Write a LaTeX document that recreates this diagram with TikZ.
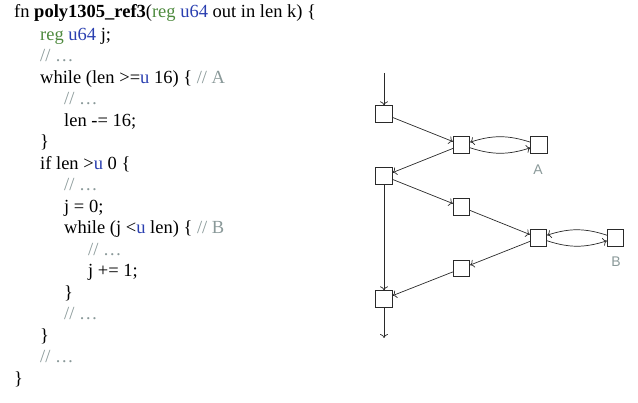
\documentclass[tikz,border=0pt]{standalone}
\usepackage{fontspec}
\setmainfont{Liberation Serif}
\setsansfont{Liberation Sans}
\usetikzlibrary{arrows.meta}
\definecolor{kwgreen}{HTML}{4E8A3E}
\definecolor{tyblue}{HTML}{2A3FB0}
\definecolor{cmgray}{HTML}{8A9999}
\definecolor{edgegray}{HTML}{2A2A2A}
\newcommand{\kwreg}{\textcolor{kwgreen}{reg}}
\newcommand{\tyu}[1]{\textcolor{tyblue}{#1}}
\newcommand{\cmt}[1]{\textcolor{cmgray}{#1}}
\begin{document}
\begin{tikzpicture}[x=1pt,y=-1pt,
  codeline/.style={anchor=base west,inner sep=0pt,font=\fontsize{18.5}{21}\selectfont},
  blk/.style={draw=edgegray,line width=0.8pt,minimum size=16.5pt,inner sep=0pt},
  flow/.style={-{To[length=4pt,width=8pt]},draw=edgegray,line width=0.7pt},
  looplabel/.style={text=cmgray,font=\sffamily\fontsize{14}{16}\selectfont}]
\useasboundingbox (0,0) rectangle (638,403);

% source listing
\node[codeline] (l0) at (14,18) {fn \textbf{poly1305\_ref3}(\kwreg{} \tyu{u64} out in len k) \{};
\node[codeline] (l1) at (40,41) {\kwreg{} \tyu{u64} j;};
\node[codeline] (l2) at (40,62) {\cmt{// …}};
\node[codeline] (l3) at (40,83.5) {while (len >=\tyu{u} 16) \{ \cmt{// A}};
\node[codeline] (l4) at (64,105) {\cmt{// …}};
\node[codeline] (l5) at (64,126.5) {len -= 16;};
\node[codeline] (l6) at (40,148) {\}};
\node[codeline] (l7) at (40,169.5) {if len >\tyu{u} 0 \{};
\node[codeline] (l8) at (64,191) {\cmt{// …}};
\node[codeline] (l9) at (64,212.5) {j = 0;};
\node[codeline] (l10) at (64,234) {while (j <\tyu{u} len) \{ \cmt{// B}};
\node[codeline] (l11) at (88,255.5) {\cmt{// …}};
\node[codeline] (l12) at (88,277) {j += 1;};
\node[codeline] (l13) at (64,298.5) {\}};
\node[codeline] (l14) at (64,320) {\cmt{// …}};
\node[codeline] (l15) at (40,341.5) {\}};
\node[codeline] (l16) at (40,363) {\cmt{// …}};
\node[codeline] (l17) at (14,384.5) {\}};

% control-flow graph
\coordinate (entry) at (384,73);
\coordinate (exit) at (384,338);
\node[blk] (n1) at (384,114) {};
\node[blk] (n2) at (461.5,145) {};
\node[blk] (na) at (539,145) {};
\node[blk] (n3) at (384,176) {};
\node[blk] (n4) at (461.5,207) {};
\node[blk] (n5) at (538.5,238) {};
\node[blk] (nb) at (615.5,238) {};
\node[blk] (n6) at (461.5,268.5) {};
\node[blk] (n7) at (384,299) {};
\node[looplabel] (la) at (538,170) {A};
\node[looplabel] (lb) at (616,262) {B};

\draw[flow] (entry) -- (n1);
\draw[flow] (n1) -- (n2);
\draw[flow] (n2) to[bend right=18] (na);
\draw[flow] (na) to[bend right=18] (n2);
\draw[flow] (n2) -- (n3);
\draw[flow] (n3) -- (n4);
\draw[flow] (n3) -- (n7);
\draw[flow] (n4) -- (n5);
\draw[flow] (n5) to[bend right=18] (nb);
\draw[flow] (nb) to[bend right=18] (n5);
\draw[flow] (n5) -- (n6);
\draw[flow] (n6) -- (n7);
\draw[flow] (n7) -- (exit);
\end{tikzpicture}
\end{document}
